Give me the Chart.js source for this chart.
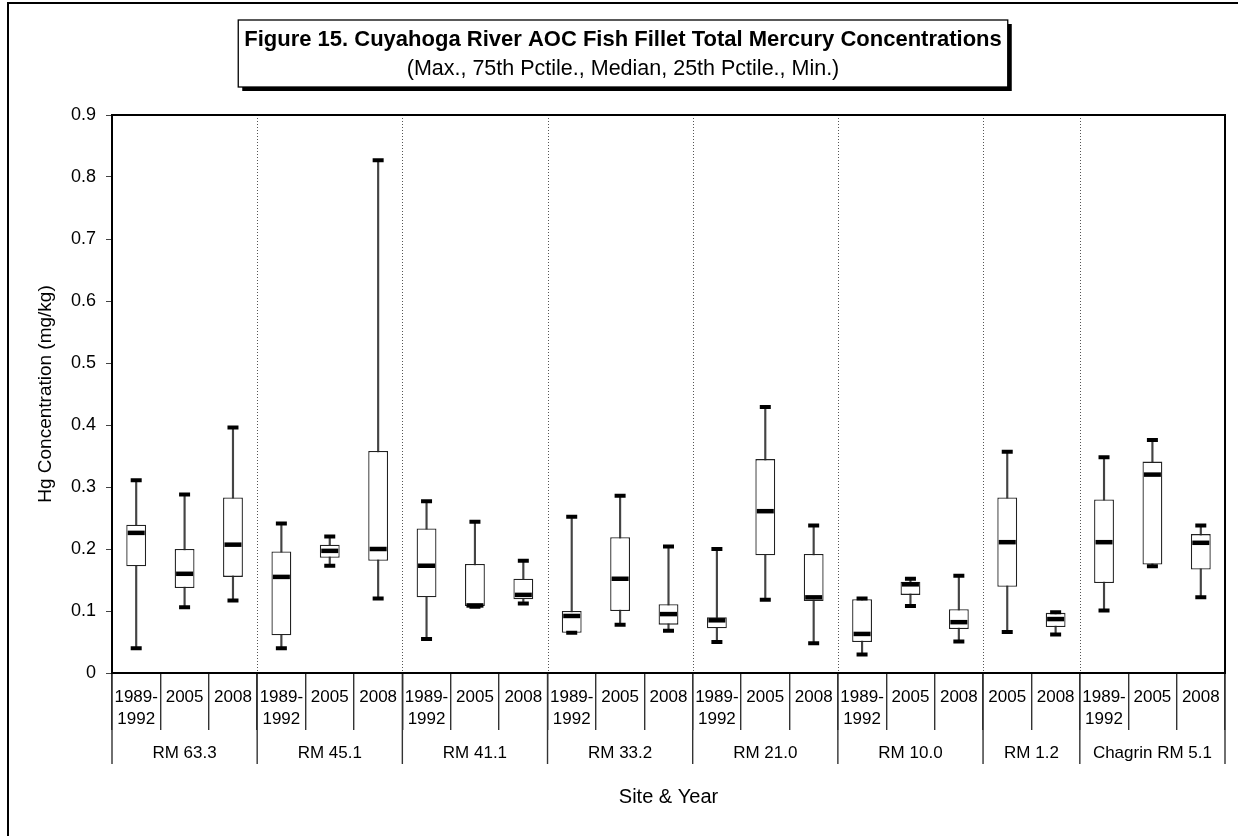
<!DOCTYPE html>
<html>
<head>
<meta charset="utf-8">
<title>Figure 15</title>
<script src="https://cdn.jsdelivr.net/npm/chart.js@4.4.1/dist/chart.umd.min.js"></script>
<style>
  html, body { margin: 0; padding: 0; background: #fff; }
  canvas { display: block; }
</style>
</head>
<body>
<canvas id="myChart" width="1238" height="836"></canvas>
<script>
// years shown under each box
const years = [
  ['1989-', '1992'], '2005', '2008',
  ['1989-', '1992'], '2005', '2008',
  ['1989-', '1992'], '2005', '2008',
  ['1989-', '1992'], '2005', '2008',
  ['1989-', '1992'], '2005', '2008',
  ['1989-', '1992'], '2005', '2008',
  '2005', '2008',
  ['1989-', '1992'], '2005', '2008'
];
const sites = ['RM 63.3', 'RM 45.1', 'RM 41.1', 'RM 33.2', 'RM 21.0', 'RM 10.0', 'RM 1.2', 'Chagrin RM 5.1'];
const siteSpans = [3, 3, 3, 3, 3, 3, 2, 3];

// Hg (mg/kg)
const maxs    = [0.311, 0.288, 0.396, 0.241, 0.220, 0.827, 0.277, 0.244, 0.181, 0.252, 0.286, 0.204, 0.200, 0.429, 0.238, 0.120, 0.152, 0.157, 0.357, 0.098, 0.348, 0.376, 0.238];
const q3s     = [0.239, 0.200, 0.283, 0.196, 0.207, 0.358, 0.233, 0.176, 0.152, 0.100, 0.219, 0.111, 0.090, 0.345, 0.192, 0.119, 0.147, 0.103, 0.283, 0.097, 0.280, 0.341, 0.224];
const medians = [0.226, 0.160, 0.207, 0.155, 0.197, 0.200, 0.173, 0.109, 0.126, 0.092, 0.152, 0.095, 0.085, 0.261, 0.122, 0.063, 0.143, 0.082, 0.211, 0.087, 0.211, 0.320, 0.210];
const q1s     = [0.172, 0.137, 0.155, 0.061, 0.186, 0.181, 0.122, 0.108, 0.119, 0.065, 0.100, 0.078, 0.072, 0.190, 0.116, 0.050, 0.126, 0.071, 0.139, 0.074, 0.145, 0.175, 0.167];
const mins    = [0.040, 0.106, 0.117, 0.040, 0.173, 0.120, 0.055, 0.107, 0.112, 0.065, 0.078, 0.068, 0.050, 0.118, 0.048, 0.030, 0.108, 0.051, 0.066, 0.062, 0.101, 0.172, 0.122];

const yTicks = [0, 0.1, 0.2, 0.3, 0.4, 0.5, 0.6, 0.7, 0.8, 0.9];

const FONT = "'Liberation Sans', Arial, Helvetica, sans-serif";

var ctx = document.getElementById('myChart');

// frame, title box, site row, dotted separators
const decorations = {
  id: 'decorations',
  beforeDraw(chart) {
    const c = chart.ctx;
    c.save();
    c.fillStyle = '#fff';
    c.fillRect(0, 0, chart.width, chart.height);
    c.strokeStyle = '#000';
    c.lineWidth = 2;
    c.strokeRect(8, 3, chart.width + 50, chart.height + 50);
    c.restore();
  },
  afterDraw(chart) {
    const c = chart.ctx;
    const area = chart.chartArea;
    const x = chart.scales.x;
    const cw = x.getPixelForValue(1) - x.getPixelForValue(0);
    const edge = i => x.getPixelForValue(i) - cw / 2;

    c.save();
    // group boundaries
    let start = 0;
    const bounds = [0];
    siteSpans.forEach(n => { start += n; bounds.push(start); });

    // dotted separators inside the plot
    c.strokeStyle = '#555';
    c.lineWidth = 1;
    c.setLineDash([1, 2]);
    bounds.slice(1, -1).forEach(b => {
      const px = Math.round(edge(b)) + 0.5;
      c.beginPath();
      c.moveTo(px, area.top);
      c.lineTo(px, area.bottom);
      c.stroke();
    });
    c.setLineDash([]);

    // site row lines
    c.strokeStyle = '#333';
    c.lineWidth = 1.4;
    bounds.forEach(b => {
      const px = edge(b);
      c.beginPath();
      c.moveTo(px, area.bottom);
      c.lineTo(px, area.bottom + 91);
      c.stroke();
    });

    // site labels
    c.fillStyle = '#000';
    c.font = '17px ' + FONT;
    c.textAlign = 'center';
    c.textBaseline = 'middle';
    sites.forEach((s, i) => {
      const mid = (edge(bounds[i]) + edge(bounds[i + 1])) / 2;
      c.fillText(s, mid, area.bottom + 80);
    });

    // x axis title
    c.font = '20px ' + FONT;
    c.fillText('Site & Year', (area.left + area.right) / 2, area.bottom + 124);

    // plot border
    c.strokeStyle = '#000';
    c.lineWidth = 2;
    c.strokeRect(area.left, area.top, area.right - area.left, area.bottom - area.top);

    // title box
    const t1 = 'Figure 15. Cuyahoga River AOC Fish Fillet Total Mercury Concentrations';
    const t2 = '(Max., 75th Pctile., Median, 25th Pctile., Min.)';
    c.font = 'bold 22px ' + FONT;
    const w = c.measureText(t1).width;
    const cx = chart.width / 2 + 4;
    const bx = cx - w / 2 - 6, by = 20, bw = w + 12, bh = 67;
    c.fillStyle = '#000';
    c.fillRect(bx + 4, by + 4, bw, bh);
    c.fillStyle = '#fff';
    c.fillRect(bx, by, bw, bh);
    c.lineWidth = 1.3;
    c.strokeRect(bx, by, bw, bh);
    c.fillStyle = '#000';
    c.textBaseline = 'alphabetic';
    c.fillText(t1, cx, 46);
    c.font = '21.5px ' + FONT;
    c.fillText(t2, cx, 75);
    c.restore();
  }
};

var myChart = new Chart(ctx, {
  data: {
    labels: years,
    datasets: [
      { // whiskers
        type: 'bar',
        data: mins.map((v, i) => [v, maxs[i]]),
        grouped: false,
        barThickness: 1.5,
        backgroundColor: '#444',
        order: 3
      },
      { // boxes
        type: 'bar',
        data: q1s.map((v, i) => [v, q3s[i]]),
        grouped: false,
        barPercentage: 0.41,
        categoryPercentage: 1,
        backgroundColor: '#fff',
        borderColor: '#222',
        borderWidth: 1.3,
        borderSkipped: false,
        order: 2
      },
      { // medians
        type: 'line',
        data: medians,
        showLine: false,
        pointStyle: 'line',
        pointRadius: 8.5,
        pointBorderWidth: 4.5,
        pointBorderColor: '#000',
        order: 1
      },
      { // max caps
        type: 'line',
        data: maxs,
        showLine: false,
        pointStyle: 'line',
        pointRadius: 5.5,
        pointBorderWidth: 4,
        pointBorderColor: '#000',
        order: 0
      },
      { // min caps
        type: 'line',
        data: mins,
        showLine: false,
        pointStyle: 'line',
        pointRadius: 5.5,
        pointBorderWidth: 4,
        pointBorderColor: '#000',
        order: 0
      }
    ]
  },
  options: {
    responsive: false,
    animation: false,
    devicePixelRatio: 1,
    layout: { padding: { top: 115, right: 12, left: 0, bottom: 0 } },
    plugins: {
      legend: { display: false },
      tooltip: { enabled: false },
      title: { display: false }
    },
    scales: {
      x: {
        offset: true,
        afterFit: s => { s.height = 163; },
        grid: {
          offset: true,
          drawOnChartArea: false,
          tickLength: 57,
          color: '#333',
          lineWidth: 1.4
        },
        border: { display: true, color: '#000', width: 2 },
        ticks: {
          autoSkip: false,
          maxRotation: 0,
          padding: -44,
          color: '#000',
          font: { size: 17, family: FONT, lineHeight: 1.3 }
        }
      },
      y: {
        min: 0,
        max: 0.9,
        afterFit: s => { s.width = 112; },
        afterBuildTicks: s => { s.ticks = yTicks.map(v => ({ value: v })); },
        grid: {
          drawOnChartArea: false,
          tickLength: 6,
          color: '#444'
        },
        border: { display: true, color: '#000', width: 2 },
        ticks: {
          padding: 10,
          color: '#000',
          font: { size: 18, family: FONT },
          callback: v => (v === 0 ? '0' : v.toFixed(1))
        },
        title: {
          display: true,
          text: 'Hg Concentration (mg/kg)',
          color: '#000',
          font: { size: 19, family: FONT },
          padding: { top: 34, bottom: 0 }
        }
      }
    }
  },
  plugins: [decorations]
});
</script>
</body>
</html>
